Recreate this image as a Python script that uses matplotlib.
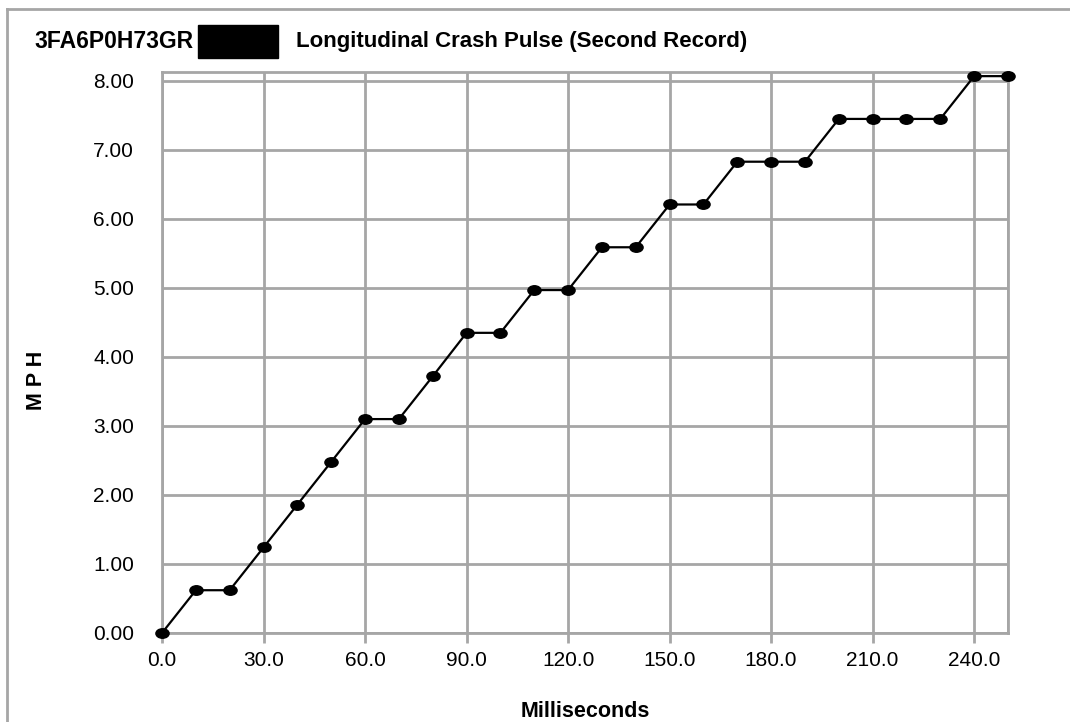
import numpy as np
import matplotlib.pyplot as plt
from matplotlib.path import Path
from matplotlib.patches import Rectangle

# crash pulse data
ms = [0, 10, 20, 30, 40, 50, 60, 70, 80, 90, 100, 110, 120, 130, 140,
      150, 160, 170, 180, 190, 200, 210, 220, 230, 240, 250]
mph = [0.00, 0.62, 0.62, 1.24, 1.86, 2.48, 3.10, 3.10, 3.72, 4.35, 4.35,
       4.97, 4.97, 5.59, 5.59, 6.21, 6.21, 6.83, 6.83, 6.83, 7.45, 7.45,
       7.45, 7.45, 8.07, 8.07]
x_ticks = [0, 30, 60, 90, 120, 150, 180, 210, 240]
y_ticks = [0, 1, 2, 3, 4, 5, 6, 7, 8]

plt.rcParams['font.family'] = ['Liberation Sans', 'DejaVu Sans']
grid_c = '#a6a6a6'

fig = plt.figure(figsize=(10.7, 7.22), dpi=100)
ax = fig.add_axes([162/1070, 1 - 633/722, (1008-162)/1070, (633-72)/722])

# slightly flattened dot marker like the original
circ = Path.unit_circle()
ell = Path(circ.vertices * np.array([1.0, 0.72]), circ.codes)

ax.plot(ms, mph, color='black', lw=1.6, marker=ell, ms=9.5,
        markerfacecolor='black', markeredgecolor='black', zorder=5, clip_on=False)

ax.set_xlim(0, 250)
ax.set_ylim(0, 8.13)
ax.set_xticks(x_ticks)
ax.set_xticklabels([f"{v:.1f}" for v in x_ticks])
ax.set_yticks(y_ticks)
ax.set_yticklabels([f"{v:.2f}" for v in y_ticks])

ax.grid(True, color=grid_c, lw=2)
ax.axvline(250, color=grid_c, lw=2)
for s in ax.spines.values():
    s.set_color(grid_c)
    s.set_linewidth(2)
ax.tick_params(axis='x', length=7, width=2, color=grid_c, labelsize=15, pad=6)
ax.tick_params(axis='y', length=0, labelsize=15, pad=20)

ax.set_xlabel("Milliseconds", fontsize=15.5, fontweight='bold', labelpad=22)
fig.text(37/1070, 1 - 380/722, "M P H", rotation=90, fontsize=15.5,
         fontweight='bold', ha='center', va='center')

# title line with the redacted block
fig.text(34/1070, 1 - 41/722, "3FA6P0H73GR", fontsize=16.5, fontweight='bold',
         ha='left', va='center')
fig.text(296/1070, 1 - 41/722, "Longitudinal Crash Pulse (Second Record)",
         fontsize=16, fontweight='bold', ha='left', va='center')
fig.patches.append(Rectangle((198/1070, 1 - 58/722), 80/1070, 33/722,
                             transform=fig.transFigure, color='black'))

# outer chart frame (partially visible)
fig.add_artist(plt.Line2D([7/1070, 7/1070], [0, 1 - 9/722],
                          transform=fig.transFigure, color=grid_c, lw=2))
fig.add_artist(plt.Line2D([7/1070, 1], [1 - 9/722, 1 - 9/722],
                          transform=fig.transFigure, color=grid_c, lw=2))

fig.savefig("out.png", dpi=100)
